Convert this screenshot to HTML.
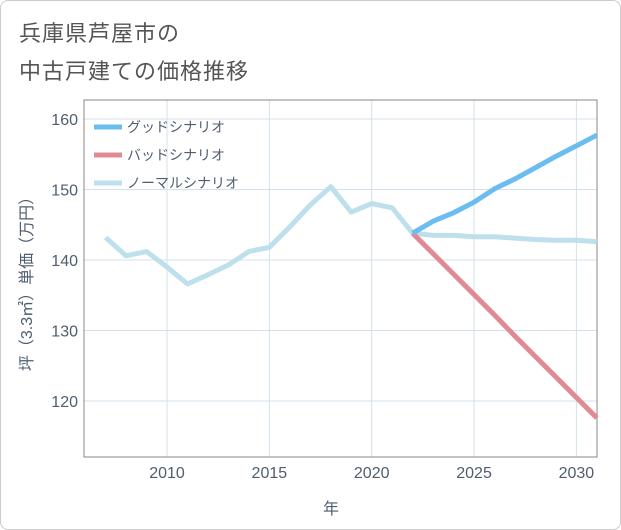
<!DOCTYPE html>
<html><head><meta charset="utf-8"><style>
body{margin:0;background:#fff;}
#wrap{position:relative;width:619px;height:528px;border:1px solid #ccc;border-radius:8px;background:#fff;overflow:hidden;font-family:"Liberation Sans","Noto Sans CJK JP",sans-serif;}
.title{position:absolute;left:18px;top:14px;font-size:22px;color:#555;line-height:38px;letter-spacing:1px;}
</style></head><body>
<div id="wrap">
<div class="title">兵庫県芦屋市の<br>中古戸建ての価格推移</div>
<svg id="chart" width="621" height="530" style="position:absolute;left:-1px;top:-1px"></svg>
</div>
<script>
const years=[2007,2008,2009,2010,2011,2012,2013,2014,2015,2016,2017,2018,2019,2020,2021,2022,2023,2024,2025,2026,2027,2028,2029,2030,2031];
const normalVals=[143.2,140.6,141.2,139.0,136.6,137.9,139.3,141.2,141.8,144.7,147.8,150.4,146.8,148.0,147.4,143.8,143.5,143.5,143.3,143.3,143.1,142.9,142.8,142.8,142.6];
const futureYears=[2022,2023,2024,2025,2026,2027,2028,2029,2030,2031];
const goodVals=[143.8,145.5,146.7,148.2,150.1,151.5,153.1,154.7,156.2,157.7];
const badVals=[143.8,140.9,138.0,135.1,132.2,129.2,126.3,123.4,120.5,117.6];
const xTicks=[2010,2015,2020,2025,2030];
const yTicks=[120,130,140,150,160];
const legendLabels=["グッドシナリオ","バッドシナリオ","ノーマルシナリオ"];
const colors=["#6bbcf0","#e08a94","#bde0ec"];
const L=84,R=597,T=100,B=457;
const x=v=>167+(v-2010)*20.47;
const y=v=>119+(160-v)*7.05;
const svg=document.getElementById('chart');
const NS='http://www.w3.org/2000/svg';
const txtCol='#4e5d70';
function mk(t,a){const e=document.createElementNS(NS,t);for(const k in a)e.setAttribute(k,a[k]);svg.appendChild(e);return e;}
xTicks.forEach(t=>{const g=mk('line',{x1:x(t),x2:x(t),y1:T,y2:B,stroke:'#d3e1ec','stroke-width':1});

});
yTicks.forEach(t=>{const g=mk('line',{x1:L,x2:R,y1:y(t),y2:y(t),stroke:'#d3e1ec','stroke-width':1});

});
let e=mk('rect',{x:L,y:T,width:R-L,height:B-T,fill:'none',stroke:'#888','stroke-width':1});


xTicks.forEach(t=>{const tx=mk('text',{x:x(t),y:478,'text-anchor':'middle','font-size':16,fill:txtCol});tx.textContent=t;

});
yTicks.forEach(t=>{const tx=mk('text',{x:78,y:y(t)+6,'text-anchor':'end','font-size':16,fill:txtCol});tx.textContent=t;

});
let xt=mk('text',{x:331,y:514,'text-anchor':'middle','font-size':16,fill:txtCol});xt.textContent='年';


let yt=mk('text',{x:0,y:0,'text-anchor':'middle','font-size':16,fill:txtCol,transform:'translate(32,280) rotate(-90)'});yt.textContent='坪（3.3㎡）単価（万円）';


function line(xs,vs,c,name){const p=mk('polyline',{points:xs.map((a,i)=>x(a)+','+y(vs[i])).join(' '),fill:'none',stroke:c,'stroke-width':5,'stroke-linejoin':'round'});

}
line(years,normalVals,colors[2],'normal-scenario-line');
line(futureYears,badVals,colors[1],'bad-scenario-line');
line(futureYears,goodVals,colors[0],'good-scenario-line');
legendLabels.forEach((lb,i)=>{const ly=127+i*28;
const l=mk('line',{x1:94,x2:122,y1:ly,y2:ly,stroke:colors[i],'stroke-width':5});


const t=mk('text',{x:127,y:ly+5,'font-size':14,fill:txtCol});t.textContent=lb;

});
</script>
</body></html>
